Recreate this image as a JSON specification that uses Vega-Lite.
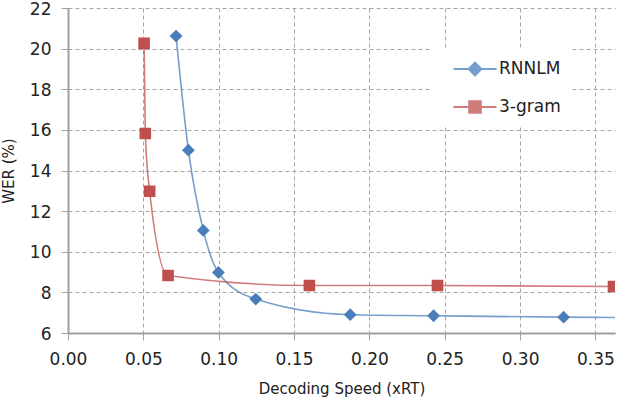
{
  "$schema": "https://vega.github.io/schema/vega-lite/v6.json",
  "width": 547,
  "height": 325,
  "autosize": "none",
  "padding": {"left": 68, "top": 8, "right": 7, "bottom": 65},
  "background": "white",
  "config": {
    "view": {"stroke": null},
    "font": "DejaVu Sans",
    "axis": {
      "labelFont": "DejaVu Sans",
      "labelFontSize": 17,
      "labelColor": "#222222",
      "titleFont": "DejaVu Sans",
      "titleFontSize": 15,
      "titleFontWeight": "normal",
      "titleColor": "#222222",
      "domainColor": "#a0a0a0",
      "domainWidth": 2,
      "tickColor": "#a0a0a0",
      "tickSize": 7,
      "gridColor": "#a6a6a6",
      "gridDash": [4, 3],
      "gridWidth": 1
    },
    "legend": {
      "labelFont": "DejaVu Sans",
      "labelFontSize": 17,
      "labelColor": "#222222"
    }
  },
  "data": {
    "values": [
      {"series": "RNNLM", "speed": 0.0717, "wer": 20.62},
      {"series": "RNNLM", "speed": 0.0799, "wer": 15.0},
      {"series": "RNNLM", "speed": 0.0898, "wer": 11.05},
      {"series": "RNNLM", "speed": 0.0998, "wer": 8.98},
      {"series": "RNNLM", "speed": 0.1246, "wer": 7.67},
      {"series": "RNNLM", "speed": 0.1873, "wer": 6.9},
      {"series": "RNNLM", "speed": 0.2426, "wer": 6.85},
      {"series": "RNNLM", "speed": 0.3289, "wer": 6.78},
      {"series": "RNNLM", "speed": 0.375, "wer": 6.76},
      {"series": "3-gram", "speed": 0.0505, "wer": 20.26},
      {"series": "3-gram", "speed": 0.0513, "wer": 15.82},
      {"series": "3-gram", "speed": 0.0542, "wer": 12.98},
      {"series": "3-gram", "speed": 0.0664, "wer": 8.83},
      {"series": "3-gram", "speed": 0.1602, "wer": 8.34},
      {"series": "3-gram", "speed": 0.2452, "wer": 8.34},
      {"series": "3-gram", "speed": 0.362, "wer": 8.29}
    ]
  },
  "encoding": {
    "x": {
      "field": "speed",
      "type": "quantitative",
      "title": "Decoding Speed (xRT)",
      "scale": {"domain": [0, 0.363], "nice": false, "zero": false},
      "axis": {"values": [0, 0.05, 0.1, 0.15, 0.2, 0.25, 0.3, 0.35], "format": ".2f", "labelPadding": 11, "titlePadding": 14, "labelFlush": false}
    },
    "y": {
      "field": "wer",
      "type": "quantitative",
      "title": "WER (%)",
      "scale": {"domain": [6, 22], "nice": false, "zero": false},
      "axis": {"values": [6, 8, 10, 12, 14, 16, 18, 20, 22], "labelPadding": 10, "labelOffset": 1, "titlePadding": 13, "labelFlush": false}
    },
    "color": {
      "field": "series",
      "type": "nominal",
      "scale": {"domain": ["RNNLM", "3-gram"], "range": ["#4a7ebb", "#c0504d"]},
      "legend": {
        "title": null,
        "orient": "none",
        "legendX": 362,
        "legendY": 41,
        "fillColor": "white",
        "padding": 9,
        "rowPadding": 16,
        "symbolSize": 400,
        "symbolOffset": 25,
        "symbolStrokeWidth": 2,
        "labelOffset": 13
      }
    }
  },
  "layer": [
    {
      "mark": {"type": "line", "interpolate": "monotone", "strokeWidth": 1.6, "opacity": 0.75, "clip": true}
    },
    {
      "mark": {"type": "point", "filled": true, "opacity": 1, "strokeWidth": 0, "clip": true, "size": 400},
      "encoding": {
        "shape": {
          "field": "series",
          "type": "nominal",
          "scale": {"domain": ["RNNLM", "3-gram"], "range": ["M-2.15,0H2.15M0,-0.64L0.64,0L0,0.64L-0.64,0Z", "M-2.15,0H2.15M-0.58,-0.58H0.58V0.58H-0.58Z"]},
          "legend": {
            "title": null,
            "orient": "none",
            "legendX": 362,
            "legendY": 41,
            "fillColor": "white",
            "padding": 9,
            "rowPadding": 16,
            "symbolSize": 400,
            "symbolOffset": 25,
            "symbolStrokeWidth": 2,
            "labelOffset": 13
          }
        }
      }
    }
  ]
}
